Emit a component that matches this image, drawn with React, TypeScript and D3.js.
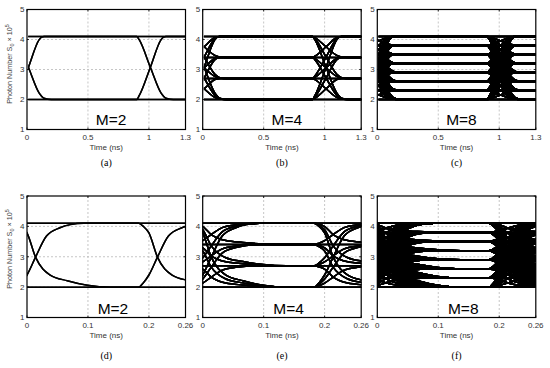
import React from 'react';
import * as d3 from 'd3';

// ---- data ----
const levelsM2 = [2.0, 4.1];
const levelsM4 = [2.0, 2.7, 3.4, 4.1];
const levelsM8 = [2.0, 2.3, 2.6, 2.9, 3.2, 3.5, 3.8, 4.1];

const yTicks = [1, 2, 3, 4, 5];
const topXTicks = [0, 0.5, 1, 1.3];
const topXTickLabels = ['0', '0.5', '1', '1.3'];
const botXTicks = [0, 0.1, 0.2, 0.26];
const botXTickLabels = ['0', '0.1', '0.2', '0.26'];

// transition profiles: time since start of transition (ns) and fraction of the level change
const riseTopDt = [0, 0.02, 0.11, 0.2, 0.22, 0.24];
const riseTopFrac = [0, 0.06, 0.5, 0.95, 0.99, 1];
const fallTopDt = [0, 0.02, 0.114, 0.2, 0.24, 0.3];
const fallTopFrac = [0, 0.05, 0.5, 0.9, 0.98, 1];

const riseBotDt = [0, 0.008, 0.017, 0.031, 0.049, 0.071, 0.088, 0.11];
const riseBotFrac = [0, 0.07, 0.19, 0.47, 0.8, 0.93, 0.98, 1];
const fallBotDt = [0, 0.008, 0.017, 0.031, 0.055, 0.083, 0.116, 0.154];
const fallBotFrac = [0, 0.05, 0.15, 0.53, 0.81, 0.9, 0.97, 1];

const topTransitionStarts = [-0.1, 0.9];
const botTransitionStarts = [-0.017, 0.183];
const topTraceStart = 0.01;
const botTraceStart = 0;

const captions = ['(a)', '(b)', '(c)', '(d)', '(e)', '(f)'];
const modLabels = ['M=2', 'M=4', 'M=8'];

// ---- layout ----
const W = 550, H = 368;
const colLeft = [27, 202.7, 377.3];
const panelW = 158.5;
const rows = [
  {
    top: 9.5, bottom: 129.5, domain: [0, 1.3], ticks: topXTicks, tickLabels: topXTickLabels,
    starts: topTransitionStarts, tStart: topTraceStart,
    rise: [riseTopDt, riseTopFrac], fall: [fallTopDt, fallTopFrac],
    labelT: 0.69, labelY: 125, tickY: 140, titleY: 150, capY: 166,
  },
  {
    top: 196, bottom: 317.5, domain: [0, 0.26], ticks: botXTicks, tickLabels: botXTickLabels,
    starts: botTransitionStarts, tStart: botTraceStart,
    rise: [riseBotDt, riseBotFrac], fall: [fallBotDt, fallBotFrac],
    labelT: 0.141, labelY: 313.5, tickY: 328, titleY: 338, capY: 359,
  },
];
const levelSets = [levelsM2, levelsM4, levelsM8];

function buildTrace(a: number, b: number, c: number, row: any): [number, number][] {
  const pts: [number, number][] = [];
  pts.push([row.starts[0] - 0.05, a]);
  const seg = (from: number, to: number, ts: number) => {
    const [dts, fr] = to >= from ? row.rise : row.fall;
    dts.forEach((dt: number, i: number) => pts.push([ts + dt, from + (to - from) * fr[i]]));
  };
  seg(a, b, row.starts[0]);
  seg(b, c, row.starts[1]);
  pts.push([row.domain[1] + 0.1, c]);
  return pts;
}

const font = 'Arial, "Liberation Sans", Helvetica, sans-serif';

function Panel({ ri, ci }: { ri: number; ci: number }) {
  const row = rows[ri];
  const levels = levelSets[ci];
  const x0 = colLeft[ci];
  const x = d3.scaleLinear().domain(row.domain).range([x0, x0 + panelW]);
  const y = d3.scaleLinear().domain([1, 5]).range([row.bottom, row.top]);
  const line = d3.line<[number, number]>().x(d => x(d[0])).y(d => y(d[1])).curve(d3.curveMonotoneX);
  const clipId = `clip-${ri}-${ci}`;
  const paths: string[] = [];
  levels.forEach(a => levels.forEach(b => levels.forEach(c => {
    paths.push(line(buildTrace(a, b, c, row)) as string);
  })));
  const cx = x0 + panelW / 2;
  return (
    <g>
      <defs>
        <clipPath id={clipId}>
          <rect x={x(row.tStart)} y={row.top} width={x(row.domain[1]) - x(row.tStart)} height={row.bottom - row.top} />
        </clipPath>
      </defs>
      {/* grid */}
      {row.ticks.slice(1, -1).map((t: number) => (
        <line key={'gx' + t} x1={x(t)} x2={x(t)} y1={row.top} y2={row.bottom} stroke="#b8b8b8" strokeWidth={0.8} strokeDasharray="2,2" />
      ))}
      {yTicks.slice(1, -1).map(v => (
        <line key={'gy' + v} x1={x0} x2={x0 + panelW} y1={y(v)} y2={y(v)} stroke="#b8b8b8" strokeWidth={0.8} strokeDasharray="2,2" />
      ))}
      {/* traces */}
      <g clipPath={`url(#${clipId})`} fill="none" stroke="#000" strokeWidth={1.5}>
        {paths.map((p, i) => <path key={i} d={p} />)}
      </g>
      {/* box */}
      <rect x={x0} y={row.top} width={panelW} height={row.bottom - row.top} fill="none" stroke="#000" strokeWidth={1.2} />
      {/* ticks */}
      {row.ticks.map((t: number) => (
        <g key={'tx' + t}>
          <line x1={x(t)} x2={x(t)} y1={row.bottom} y2={row.bottom - 2} stroke="#000" strokeWidth={0.8} />
          <line x1={x(t)} x2={x(t)} y1={row.top} y2={row.top + 2} stroke="#000" strokeWidth={0.8} />
        </g>
      ))}
      {yTicks.map(v => (
        <g key={'ty' + v}>
          <line x1={x0} x2={x0 + 2} y1={y(v)} y2={y(v)} stroke="#000" strokeWidth={0.8} />
          <line x1={x0 + panelW} x2={x0 + panelW - 2} y1={y(v)} y2={y(v)} stroke="#000" strokeWidth={0.8} />
        </g>
      ))}
      {/* tick labels */}
      {row.ticks.map((t: number, i: number) => (
        <text key={'lx' + t} x={x(t)} y={row.tickY} textAnchor="middle" fontFamily={font} fontSize={8} fill="#333">{row.tickLabels[i]}</text>
      ))}
      {yTicks.map(v => (
        <text key={'ly' + v} x={x0 - 2.5} y={y(v) + 2.8} textAnchor="end" fontFamily={font} fontSize={8} fill="#333">{v}</text>
      ))}
      <text x={cx} y={row.titleY} textAnchor="middle" fontFamily={font} fontSize={8} fill="#333">Time (ns)</text>
      <text x={x(row.labelT)} y={row.labelY} textAnchor="middle" fontFamily={font} fontSize={15.5} fill="#000">{modLabels[ci]}</text>
      <text x={cx} y={row.capY} textAnchor="middle" fontFamily='"Liberation Serif", "DejaVu Serif", serif' fontSize={10} fill="#000">{captions[ri * 3 + ci]}</text>
    </g>
  );
}

function YLabel({ cy }: { cy: number }) {
  return (
    <text transform={`translate(12,${cy}) rotate(-90)`} textAnchor="middle" fontFamily={font} fontSize={7.2} fill="#444">
      Photon Number S<tspan fontSize={5.5} dy={2}>0</tspan><tspan dy={-2}>{' \u00d7 10'}</tspan><tspan fontSize={5.5} dy={-3}>5</tspan>
    </text>
  );
}

export default function App() {
  return (
    <svg width={W} height={H} style={{ position: 'absolute', left: 0, top: 0, background: '#fff' }}>
      <rect width={W} height={H} fill="#fff" />
      {rows.map((_, ri) => [0, 1, 2].map(ci => <Panel key={`${ri}-${ci}`} ri={ri} ci={ci} />))}
      <YLabel cy={64} />
      <YLabel cy={249} />
    </svg>
  );
}
